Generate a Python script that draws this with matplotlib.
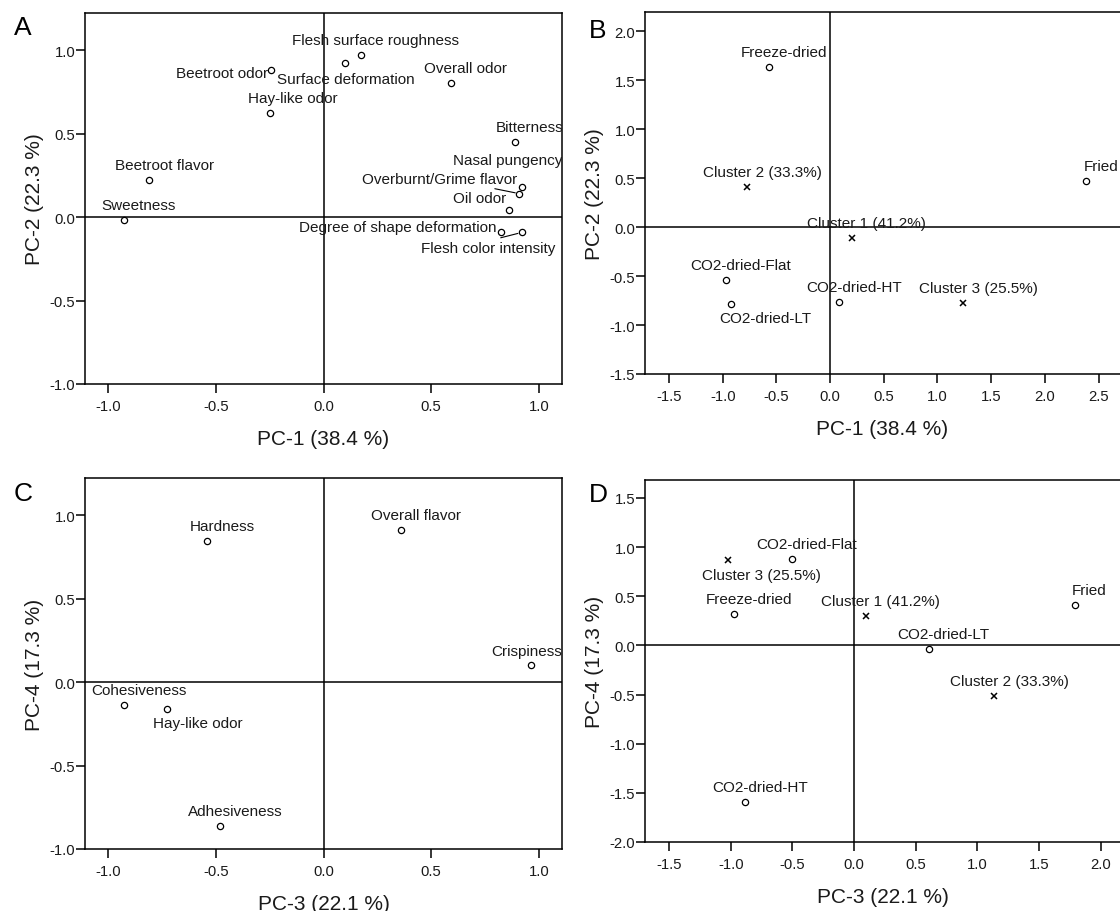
import matplotlib
matplotlib.use('Agg')
import matplotlib.pyplot as plt
from matplotlib.ticker import MultipleLocator, FormatStrFormatter

plt.rcParams['font.family'] = ['Liberation Sans', 'DejaVu Sans']
plt.rcParams['axes.unicode_minus'] = False

# A: attribute loadings on PC-1 / PC-2
a_labels = ['Flesh surface roughness', 'Surface deformation', 'Beetroot odor',
            'Hay-like odor', 'Overall odor', 'Bitterness', 'Nasal pungency',
            'Overburnt/Grime flavor', 'Oil odor', 'Degree of shape deformation',
            'Flesh color intensity', 'Beetroot flavor', 'Sweetness']
a_pc1 = [0.173, 0.102, -0.242, -0.249, 0.591, 0.889, 0.921, 0.909, 0.862, 0.823, 0.921, -0.809, -0.928]
a_pc2 = [0.972, 0.922, 0.882, 0.621, 0.800, 0.451, 0.182, 0.140, 0.040, -0.092, -0.092, 0.220, -0.018]

# B: samples and clusters on PC-1 / PC-2
b_labels = ['Freeze-dried', 'Cluster 2 (33.3%)', 'Fried', 'Cluster 1 (41.2%)',
            'CO2-dried-Flat', 'CO2-dried-LT', 'CO2-dried-HT', 'Cluster 3 (25.5%)']
b_pc1 = [-0.572, -0.771, 2.387, 0.200, -0.974, -0.921, 0.083, 1.240]
b_pc2 = [1.634, 0.404, 0.465, -0.112, -0.536, -0.787, -0.766, -0.777]

# C: attribute loadings on PC-3 / PC-4
c_labels = ['Hardness', 'Overall flavor', 'Crispiness', 'Cohesiveness',
            'Hay-like odor', 'Adhesiveness']
c_pc3 = [-0.539, 0.361, 0.962, -0.928, -0.728, -0.479]
c_pc4 = [0.842, 0.912, 0.102, -0.138, -0.160, -0.860]

# D: samples and clusters on PC-3 / PC-4
d_labels = ['Cluster 3 (25.5%)', 'CO2-dried-Flat', 'Freeze-dried', 'Cluster 1 (41.2%)',
            'CO2-dried-LT', 'Cluster 2 (33.3%)', 'Fried', 'CO2-dried-HT']
d_pc3 = [-1.024, -0.502, -0.971, 0.096, 0.606, 1.137, 1.789, -0.884]
d_pc4 = [0.866, 0.877, 0.314, 0.303, -0.034, -0.512, 0.415, -1.595]

W, H = 1120, 912
fig = plt.figure(figsize=(W / 100, H / 100), dpi=100)


def box(l, t, r, b):
    return [l / W, 1 - b / H, (r - l) / W, (b - t) / H]


# label placement (pixels from point), default is up-right of the marker
DEF = (15, 15, 'center')


def panel(ax, labels, xs, ys, xlim, ylim, xlab, ylab, offsets, leaders=None, open_right=False):
    leaders = leaders or {}
    for lab, x, y in zip(labels, xs, ys):
        if lab.startswith('Cluster'):
            ax.plot(x, y, marker='x', ms=5, mew=1.1, color='black', ls='none')
        else:
            ax.plot(x, y, marker='o', ms=4.5, mew=0.9, mfc='white', mec='black', ls='none')
        dx, dy, ha = offsets.get(lab, DEF)
        kw = {}
        if lab in leaders:
            kw['arrowprops'] = dict(arrowstyle='-', color='black', lw=0.8,
                                    relpos=leaders[lab], shrinkA=1, shrinkB=3)
        t = ax.annotate(lab, xy=(x, y), xytext=(dx, dy), textcoords='offset pixels',
                        ha=ha, va='center', fontsize=11, color='#1a1a1a', **kw)
        t.set_clip_path(ax.patch)
    ax.axhline(0, color='black', lw=1.1, zorder=1)
    ax.axvline(0, color='black', lw=1.1, zorder=1)
    ax.set_xlim(*xlim)
    ax.set_ylim(*ylim)
    ax.xaxis.set_major_locator(MultipleLocator(0.5))
    ax.yaxis.set_major_locator(MultipleLocator(0.5))
    ax.xaxis.set_major_formatter(FormatStrFormatter('%.1f'))
    ax.yaxis.set_major_formatter(FormatStrFormatter('%.1f'))
    ax.tick_params(direction='out', length=6.5, width=1.1, labelsize=10.7,
                   labelcolor='#1a1a1a', top=False, right=False)
    ax.tick_params(axis='y', pad=0.5)
    ax.tick_params(axis='x', pad=4)
    for s in ax.spines.values():
        s.set_linewidth(1.1)
    if open_right:
        ax.spines['right'].set_visible(False)
    ax.set_xlabel(xlab, fontsize=15, color='#1a1a1a')
    ax.set_ylabel(ylab, fontsize=15, color='#1a1a1a')
    pos = ax.get_position()
    ax.xaxis.set_label_coords(0.5, -45 / (pos.height * H))
    ax.yaxis.set_label_coords(-41 / (pos.width * W), 0.5)


axA = fig.add_axes(box(85, 14, 562, 385))
panel(axA, a_labels, a_pc1, a_pc2, (-1.107, 1.107), (-1.0, 1.222),
      'PC-1 (38.4 %)', 'PC-2 (22.3 %)',
      {'Surface deformation': (0, -15.5, 'center'),
       'Beetroot odor': (-3, -3, 'right'),
       'Hay-like odor': (22.5, 15, 'center'),
       'Nasal pungency': (-14.5, 27, 'center'),
       'Overburnt/Grime flavor': (-80, 15, 'center'),
       'Oil odor': (-30, 12.5, 'center'),
       'Degree of shape deformation': (-4, 5, 'right'),
       'Flesh color intensity': (-33.5, -15.5, 'center')},
      leaders={'Overburnt/Grime flavor': (0.76, 0), 'Flesh color intensity': (0.5, 1)})

axB = fig.add_axes(box(645, 13, 1120, 375))
panel(axB, b_labels, b_pc1, b_pc2, (-1.724, 2.70), (-1.5, 2.194),
      'PC-1 (38.4 %)', 'PC-2 (22.3 %)',
      {'CO2-dried-LT': (33.6, -14, 'center')}, open_right=True)

axC = fig.add_axes(box(85, 479, 562, 850))
panel(axC, c_labels, c_pc3, c_pc4, (-1.107, 1.107), (-1.0, 1.222),
      'PC-3 (22.1 %)', 'PC-4 (17.3 %)',
      {'Crispiness': (-4, 14.5, 'center'),
       'Hay-like odor': (31, -14, 'center')})

axD = fig.add_axes(box(645, 481, 1120, 843))
panel(axD, d_labels, d_pc3, d_pc4, (-1.695, 2.157), (-2.0, 1.682),
      'PC-3 (22.1 %)', 'PC-4 (17.3 %)',
      {'Cluster 3 (25.5%)': (34, -14.5, 'center')}, open_right=True)

for letter, px, py in [('A', 23, 28), ('B', 598, 31), ('C', 23, 494), ('D', 598, 495)]:
    fig.text(px / W, 1 - py / H, letter, fontsize=19, ha='center', va='center')

fig.savefig('out.png', dpi=100)
